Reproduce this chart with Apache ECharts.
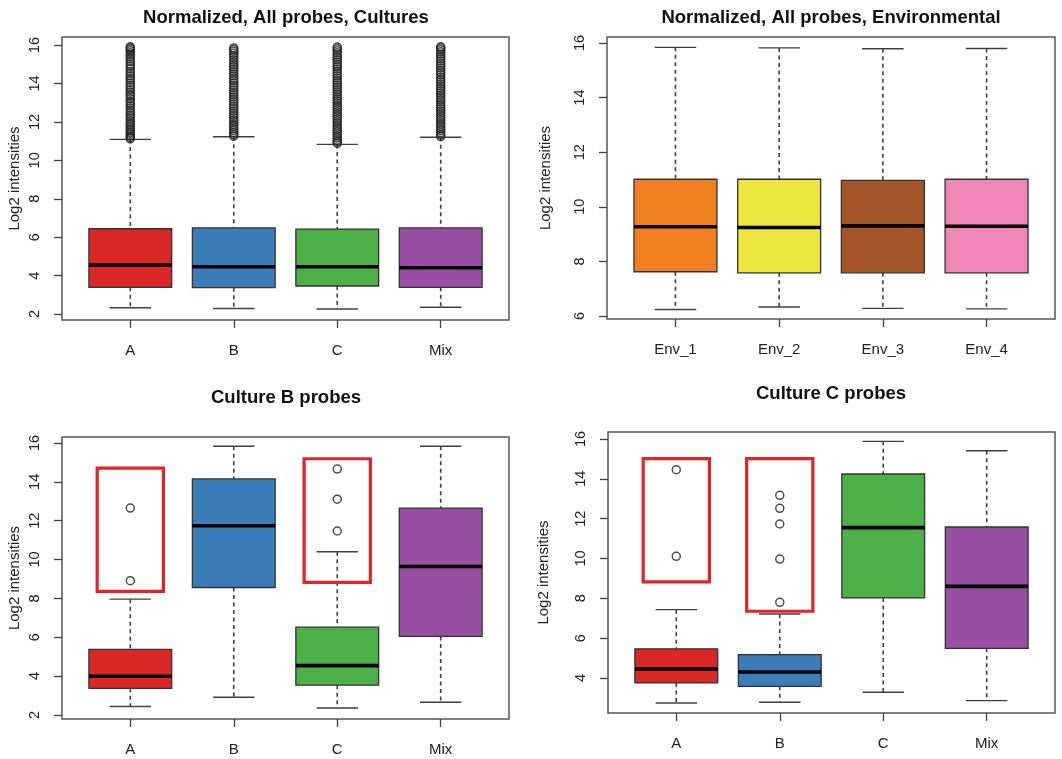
<!DOCTYPE html>
<html>
<head>
<meta charset="utf-8">
<script src="https://cdn.jsdelivr.net/npm/echarts@6/dist/echarts.min.js"></script>
<style>
html,body{margin:0;padding:0;background:#fff;}
#chart{width:1062px;height:759px;}
</style>
</head>
<body>
<div id="chart"></div>
<script>
// ---------- DATA ----------
const cultureCats = ['A', 'B', 'C', 'Mix'];
const envCats = ['Env_1', 'Env_2', 'Env_3', 'Env_4'];
const yTitle = 'Log2 intensities';

// Panel 1: Normalized, All probes, Cultures
const p1Low  = [2.33, 2.29, 2.26, 2.35];
const p1Q1   = [3.39, 3.37, 3.46, 3.39];
const p1Med  = [4.55, 4.46, 4.46, 4.41];
const p1Q3   = [6.44, 6.49, 6.42, 6.48];
const p1High = [11.09, 11.23, 10.83, 11.20];
const p1OutA = [11.12, 11.19, 11.27, 11.36, 11.44, 11.55, 11.63, 11.74, 11.85, 11.93, 12.04, 12.16, 12.27, 12.36, 12.49, 12.6, 12.73, 12.84, 12.97, 13.08, 13.2, 13.33, 13.42, 13.55, 13.67, 13.8, 13.91, 14.03, 14.17, 14.28, 14.4, 14.52, 14.63, 14.77, 14.9, 15.01, 15.14, 15.27, 15.38, 15.49, 15.6, 15.7, 15.79, 15.86, 15.91];
const p1OutB = [11.26, 11.34, 11.45, 11.55, 11.66, 11.78, 11.87, 11.99, 12.1, 12.22, 12.34, 12.45, 12.57, 12.7, 12.82, 12.93, 13.05, 13.18, 13.3, 13.41, 13.53, 13.66, 13.78, 13.9, 14.02, 14.15, 14.27, 14.39, 14.5, 14.62, 14.75, 14.87, 14.98, 15.1, 15.22, 15.35, 15.46, 15.57, 15.68, 15.77, 15.85];
const p1OutC = [10.88, 10.96, 11.05, 11.16, 11.27, 11.38, 11.49, 11.6, 11.71, 11.83, 11.94, 12.06, 12.17, 12.29, 12.4, 12.52, 12.63, 12.75, 12.86, 12.98, 13.1, 13.21, 13.33, 13.45, 13.57, 13.68, 13.8, 13.92, 14.04, 14.16, 14.28, 14.4, 14.52, 14.64, 14.76, 14.88, 15.0, 15.12, 15.24, 15.36, 15.48, 15.6, 15.71, 15.81, 15.9];
const p1OutM = [11.24, 11.32, 11.43, 11.54, 11.65, 11.76, 11.88, 11.99, 12.11, 12.22, 12.34, 12.46, 12.57, 12.69, 12.8, 12.92, 13.04, 13.15, 13.27, 13.39, 13.5, 13.62, 13.74, 13.86, 13.97, 14.09, 14.21, 14.33, 14.45, 14.57, 14.69, 14.81, 14.93, 15.05, 15.17, 15.29, 15.41, 15.53, 15.65, 15.76, 15.85, 15.91];

// Panel 2: Normalized, All probes, Environmental
const p2Low  = [6.24, 6.33, 6.28, 6.26];
const p2Q1   = [7.62, 7.58, 7.58, 7.58];
const p2Med  = [9.27, 9.24, 9.30, 9.29];
const p2Q3   = [11.01, 11.01, 10.97, 11.01];
const p2High = [15.84, 15.82, 15.79, 15.80];

// Panel 3: Culture B probes
const p3Low  = [2.43, 2.91, 2.36, 2.65];
const p3Q1   = [3.37, 8.56, 3.53, 6.04];
const p3Med  = [3.99, 11.74, 4.54, 9.64];
const p3Q3   = [5.38, 14.15, 6.52, 12.65];
const p3High = [7.96, 15.83, 10.40, 15.83];
const p3OutA = [12.65, 8.91];
const p3OutC = [14.66, 13.11, 11.47];
const p3MarkX = [1, 3];
const p3MarkLow = [8.36, 8.82];
const p3MarkHigh = [14.71, 15.19];

// Panel 4: Culture C probes
const p4Low  = [2.74, 2.78, 3.28, 2.86];
const p4Q1   = [3.75, 3.58, 8.02, 5.49];
const p4Med  = [4.45, 4.30, 11.55, 8.60];
const p4Q3   = [5.46, 5.17, 14.24, 11.58];
const p4High = [7.43, 7.21, 15.88, 15.41];
const p4OutA = [14.46, 10.11];
const p4OutB = [13.17, 12.52, 11.73, 9.97, 7.80];
const p4MarkX = [1, 2];
const p4MarkLow = [8.82, 7.35];
const p4MarkHigh = [15.01, 15.01];

const p1Ticks = [2, 4, 6, 8, 10, 12, 14, 16];
const p2Ticks = [6, 8, 10, 12, 14, 16];
const p3Ticks = [2, 4, 6, 8, 10, 12, 14, 16];
const p4Ticks = [4, 6, 8, 10, 12, 14, 16];

const cultureColors = ['#DA2624', '#3A7DB9', '#4CAF48', '#984EA3'];
const envColors = ['#F07F22', '#EDE540', '#A5552A', '#EE86B6'];

// ---------- BUILD ----------
const FONT = '"Liberation Sans", Arial, Helvetica, sans-serif';
const panels = [
  {title:'Normalized, All probes, Cultures', cats:cultureCats, colors:cultureColors,
   low:p1Low,q1:p1Q1,med:p1Med,q3:p1Q3,high:p1High, out:[p1OutA,p1OutB,p1OutC,p1OutM],
   marks:null, ticks:p1Ticks, yMin:1.69, yMax:16.42,
   grid:{left:62, top:37, width:447, height:283}, titleX:286, titleTop:8, nameGap:40},
  {title:'Normalized, All probes, Environmental', cats:envCats, colors:envColors,
   low:p2Low,q1:p2Q1,med:p2Med,q3:p2Q3,high:p2High, out:[[],[],[],[]],
   marks:null, ticks:p2Ticks, yMin:5.89, yMax:16.22,
   grid:{left:607, top:37, width:448, height:282}, titleX:831, titleTop:8, nameGap:54},
  {title:'Culture B probes', cats:cultureCats, colors:cultureColors,
   low:p3Low,q1:p3Q1,med:p3Med,q3:p3Q3,high:p3High, out:[p3OutA,[],p3OutC,[]],
   marks:{x:p3MarkX, lo:p3MarkLow, hi:p3MarkHigh}, ticks:p3Ticks, yMin:1.79, yMax:16.31,
   grid:{left:62, top:437, width:447, height:282}, titleX:286, titleTop:388, nameGap:40},
  {title:'Culture C probes', cats:cultureCats, colors:cultureColors,
   low:p4Low,q1:p4Q1,med:p4Med,q3:p4Q3,high:p4High, out:[p4OutA,p4OutB,[],[]],
   marks:{x:p4MarkX, lo:p4MarkLow, hi:p4MarkHigh}, ticks:p4Ticks, yMin:2.24, yMax:16.35,
   grid:{left:608, top:432, width:447, height:281}, titleX:831, titleTop:384, nameGap:57}
];

const grids = [], xAxes = [], yAxes = [], titles = [], series = [];
const LINE = '#404040';

panels.forEach((p, i) => {
  grids.push(Object.assign({show:true, borderColor:'#555', borderWidth:1.5, backgroundColor:'transparent'}, p.grid));
  titles.push({text:p.title, left:p.titleX, top:p.titleTop, textAlign:'center', padding:0,
    textStyle:{fontFamily:FONT, fontSize:18.5, fontWeight:'bold', color:'#111'}});
  const cats = p.cats;
  xAxes.push({gridIndex:i, type:'value', min:0.34, max:4.66,
    axisLine:{show:false}, splitLine:{show:false},
    axisTick:{show:true, customValues:[1,2,3,4], length:8, lineStyle:{color:LINE, width:1.3}},
    axisLabel:{show:true, customValues:[1,2,3,4], formatter:v => cats[Math.round(v)-1],
      fontFamily:FONT, fontSize:15, color:'#222', margin:23}});
  yAxes.push({gridIndex:i, type:'value', min:p.yMin, max:p.yMax,
    axisLine:{show:false}, splitLine:{show:false},
    axisTick:{show:true, customValues:p.ticks, length:8, lineStyle:{color:LINE, width:1.3}},
    axisLabel:{show:true, customValues:p.ticks, rotate:90, fontFamily:FONT, fontSize:14.5, color:'#222', margin:20},
    name:yTitle, nameLocation:'middle', nameRotate:90, nameGap:p.nameGap,
    nameTextStyle:{fontFamily:FONT, fontSize:15, color:'#222'}});

  const boxData = cats.map((c, k) => [k+1, p.low[k], p.q1[k], p.med[k], p.q3[k], p.high[k]]);
  const colors = p.colors;
  series.push({
    type:'custom', xAxisIndex:i, yAxisIndex:i, coordinateSystem:'cartesian2d',
    encode:{x:0, y:[1,2,3,4,5]}, data:boxData, silent:true, z:3,
    renderItem:(params, api) => {
      const x = api.value(0), lo = api.value(1), q1 = api.value(2), md = api.value(3), q3 = api.value(4), hi = api.value(5);
      const cx = api.coord([x, md])[0];
      const xl = api.coord([x-0.4, md])[0], xr = api.coord([x+0.4, md])[0];
      const cl = api.coord([x-0.2, md])[0], cr = api.coord([x+0.2, md])[0];
      const yLo = api.coord([x, lo])[1], yQ1 = api.coord([x, q1])[1], yMd = api.coord([x, md])[1];
      const yQ3 = api.coord([x, q3])[1], yHi = api.coord([x, hi])[1];
      const dash = {stroke:LINE, lineWidth:1.6, lineDash:[4,3.5]};
      const solid = {stroke:LINE, lineWidth:1.4};
      return {type:'group', children:[
        {type:'line', shape:{x1:cx, y1:yHi, x2:cx, y2:yQ3}, style:dash},
        {type:'line', shape:{x1:cx, y1:yQ1, x2:cx, y2:yLo}, style:dash},
        {type:'line', shape:{x1:cl, y1:yHi, x2:cr, y2:yHi}, style:solid},
        {type:'line', shape:{x1:cl, y1:yLo, x2:cr, y2:yLo}, style:solid},
        {type:'rect', shape:{x:xl, y:yQ3, width:xr-xl, height:yQ1-yQ3},
          style:{fill:colors[params.dataIndex], stroke:'#333', lineWidth:1.3}},
        {type:'line', shape:{x1:xl, y1:yMd, x2:xr, y2:yMd}, style:{stroke:'#000', lineWidth:3.6}}
      ]};
    }
  });

  const outData = [];
  p.out.forEach((arr, k) => arr.forEach(v => outData.push([k+1, v])));
  if (outData.length) {
    series.push({type:'scatter', xAxisIndex:i, yAxisIndex:i, data:outData, silent:true, z:4,
      symbol:'circle', symbolSize:8,
      itemStyle:{color:'rgba(255,255,255,0)', borderColor:'#222', borderWidth:1.5}});
  }

  if (p.marks) {
    const m = p.marks;
    const markData = m.x.map((x, k) => [x, m.lo[k], m.hi[k]]);
    series.push({
      type:'custom', xAxisIndex:i, yAxisIndex:i, coordinateSystem:'cartesian2d',
      encode:{x:0, y:[1,2]}, data:markData, silent:true, z:5,
      renderItem:(params, api) => {
        const x = api.value(0);
        const p0 = api.coord([x-0.32, api.value(2)]);
        const p1 = api.coord([x+0.32, api.value(1)]);
        return {type:'rect', shape:{x:p0[0], y:p0[1], width:p1[0]-p0[0], height:p1[1]-p0[1]},
          style:{fill:'none', stroke:'#E3232A', lineWidth:3.2}};
      }
    });
  }
});

const chart = echarts.init(document.getElementById('chart'), null, {renderer:'canvas'});
chart.setOption({
  animation:false, backgroundColor:'#fff',
  title:titles, grid:grids, xAxis:xAxes, yAxis:yAxes, series:series
});
</script>
</body>
</html>
